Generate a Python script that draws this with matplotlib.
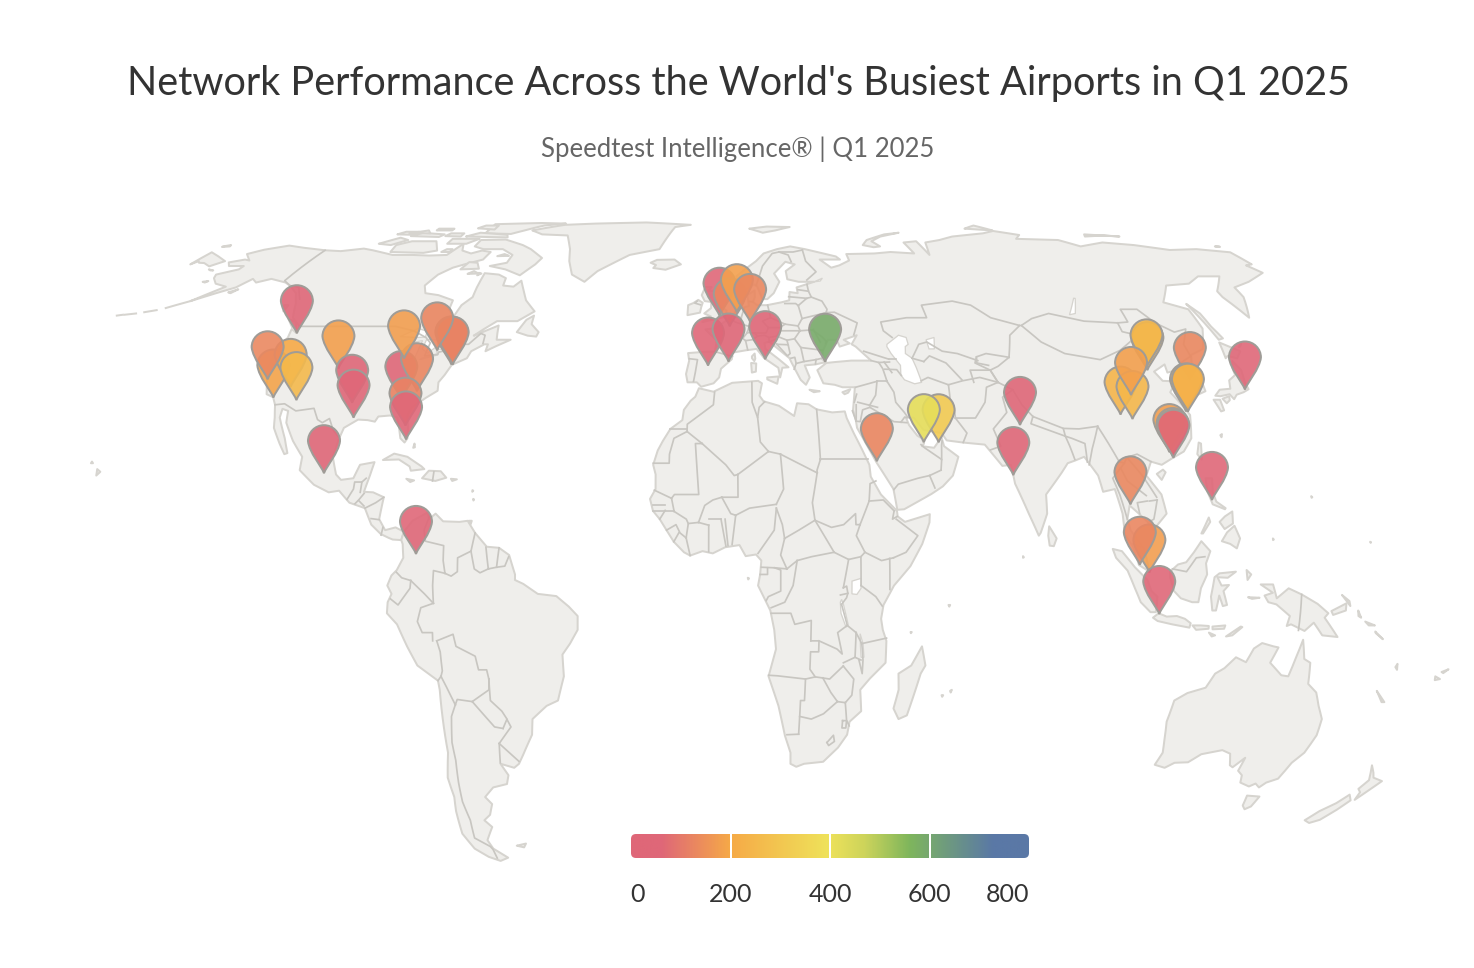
import numpy as np
import matplotlib
matplotlib.use("Agg")
import matplotlib.pyplot as plt
from matplotlib.path import Path
from matplotlib.patches import PathPatch, FancyBboxPatch, Polygon
from matplotlib.colors import LinearSegmentedColormap

# ---------- chart values ----------
TITLE = "Network Performance Across the World's Busiest Airports in Q1 2025"
SUBTITLE = "Speedtest Intelligence® | Q1 2025"
TICK_VALUES = [0, 200, 400, 600, 800]
AIRPORTS = ["SEA","EWR","JFK","YYZ","LAX","LAS","PHX","SFO","DEN","DFW","IAH","ATL","CLT","ORD","MCO","MIA","MEX","BOG",
            "LHR","CDG","AMS","FRA","MAD","BCN","FCO","IST","JED","DXB","DOH","DEL","BOM",
            "PKX","PEK","CTU","CKG","XIY","ICN","SHA","PVG","CAN","SZX","HKG","HND","MNL","BKK","SIN","KUL","CGK"]
LATS = [47.45,40.69,40.64,43.68,33.94,36.08,33.43,37.62,39.86,32.90,29.98,33.64,35.21,41.97,28.43,25.79,19.44,4.70,
        51.47,49.01,52.31,50.03,40.47,41.30,41.80,41.26,21.68,25.25,25.27,28.57,19.09,
        39.51,40.08,30.58,29.72,34.45,37.46,31.20,31.14,23.39,22.64,22.31,35.55,14.51,13.69,1.36,2.75,-6.13]
LONS = [-122.31,-74.17,-73.78,-79.63,-118.41,-115.15,-112.01,-122.38,-104.67,-97.04,-95.34,-84.43,-80.94,-87.90,-81.31,-80.29,-99.07,-74.15,
        -0.45,2.55,4.76,8.57,-3.56,2.08,12.25,28.74,39.16,55.36,51.61,77.10,72.87,
        116.41,116.58,103.95,106.64,108.75,126.44,121.34,121.80,113.30,113.81,113.91,139.78,121.02,100.75,103.99,101.71,106.66]
SPEEDS = [45,105,120,125,190,200,250,130,180,60,35,50,125,175,120,35,50,50,
          50,125,180,130,40,40,40,590,125,310,415,40,40,
          245,245,240,245,180,130,225,225,175,190,30,45,45,130,175,125,45]

CMAP_VALUES = [0, 60, 200, 395, 470, 560, 610, 730, 800]
CMAP_COLORS = ["#df6778", "#df6778", "#f6aa47", "#efe25a", "#cdd45b", "#7fb65c", "#74a474", "#5a78a6", "#5a78a6"]

# ---------- map outlines (lon, lat) ----------
NORTH_AMERICA = [(-168,65.6),(-164,66.5),(-162,66.2),(-166.5,68.3),(-163,69.8),(-156.5,71.3),(-150,70.5),(-141,69.6),(-135,69.3),(-128,70.2),(-124,69.6),(-115,68),(-108,68),(-102,67.8),(-96,68),(-94,72),(-92,69.5),(-88,68.5),(-85,69.5),(-81.5,69),(-82,66.5),(-87,65),(-90,64),(-93,62),(-94.5,59),(-92.5,57),(-88,56.5),(-82.5,55.2),(-82,52.9),(-79.5,51.3),(-79,54),(-77,56),(-77.5,58.5),(-78,62.4),(-73,62),(-70,61),(-69.5,59),(-66,58.7),(-64.5,60.3),(-62,57.5),(-60,55.2),(-56,52.5),(-60,50.2),(-66,50.2),(-69,48.3),(-71,46.9),(-65,49.2),(-64.5,47.5),(-64,46),(-60,46),(-63.5,44.6),(-66,43.5),(-66,45),(-67,45),(-70,43.5),(-70.5,42),(-74,40.6),(-75,38.5),(-76,37),(-75.5,35.3),(-78,33.9),(-81,32),(-81.5,30.5),(-80.5,28),(-80,26),(-80.5,25.2),(-81.8,26),(-82.8,28),(-84,30),(-86,30.4),(-89,30.2),(-89.5,29.2),(-91.5,29.5),(-94,29.6),(-97,28),(-97.5,25.5),(-97.8,22.5),(-96,19.2),(-94.5,18.2),(-91.5,18.5),(-90.5,21),(-87,21.5),(-87.5,19),(-88.3,16),(-86,15.9),(-83.2,15),(-83.7,11),(-82,9),(-79.5,9.5),(-77.4,8.7),(-77.9,7.2),(-80,7.3),(-81,7.6),(-83,8.3),(-85.5,10),(-87.5,13),(-91.5,14),(-94.5,16.2),(-97,15.9),(-101,17.3),(-105.3,20),(-105.5,22.5),(-109,25.5),(-112.3,29),(-113,31.3),(-114.7,31.7),(-114.5,30),(-111.3,26),(-109.5,23.2),(-110.2,23),(-112.2,25),(-115,28),(-115.8,30),(-117.1,32.5),(-118.5,34),(-120.6,34.6),(-122,36.8),(-124,40),(-124.5,43),(-124,46.5),(-124.7,48.4),(-122.5,47.5),(-123,49),(-127,51),(-130,54.5),(-133,57),(-137,58.8),(-140,59.8),(-146,60.8),(-149.5,59.8),(-152,60.8),(-154,58.5),(-158,57),(-163,55),(-157.5,58.7),(-162,59.5),(-165,61),(-166,62),(-161,63.5),(-161,64.5),(-166,64.5)]
SOUTH_AMERICA = [(-77.4,8.7),(-75.5,10.7),(-72,12.2),(-71.5,11),(-70,12),(-68,10.6),(-64,10.5),(-62,10.7),(-60,8.5),(-57,6),(-54,5.8),(-51.5,4.5),(-50,1),(-50,0),(-48,-0.7),(-44.5,-2.5),(-40,-2.9),(-37,-4.8),(-34.9,-6.5),(-35,-9),(-37,-11.5),(-39,-13.5),(-39,-17.5),(-41,-22),(-44,-23),(-48,-25.5),(-48.7,-28.5),(-52,-32.5),(-53.5,-34.2),(-55,-35),(-58.4,-34.2),(-57,-36.5),(-58,-38.3),(-62,-39),(-65,-41),(-63.7,-42.5),(-65.3,-44.8),(-67.5,-46),(-66,-47.5),(-69,-50.5),(-68.4,-52.5),(-65.2,-54.7),(-68,-55.5),(-71,-54.5),(-74,-52.5),(-75.5,-49),(-74.5,-44),(-73.5,-41),(-73.5,-37),(-71.5,-32),(-71,-27),(-70.3,-20),(-70.4,-18.3),(-75,-15.5),(-77,-12),(-79,-8),(-81.3,-6),(-81,-4),(-80,-2.5),(-81,-1),(-80,0.8),(-78.7,1.8),(-77.2,4),(-77.5,6.5),(-77.9,7.2)]
AFRICA = [(-5.9,35.8),(-2,35.1),(3,36.9),(10,37.3),(11,36.8),(10.2,34.3),(11.2,33.2),(15.2,32.3),(19,30.3),(20,32.8),(23,32.6),(25,31.6),(29,31),(32.3,31.2),(32.6,29.9),(34,27),(35.7,23.9),(37.2,21),(37.3,18.8),(39.5,15.5),(43.2,12.5),(43.3,11.5),(45,10.5),(51.2,11.9),(51,10.4),(49,6.5),(46,2.5),(42,-1),(39.5,-4.5),(39,-7),(39.5,-9),(40.5,-11),(40.6,-15),(37,-17.9),(34.8,-20),(35.5,-24),(32.8,-26),(32.5,-28.5),(30.5,-31),(27,-33.8),(22,-34.2),(20,-34.8),(18.4,-34.2),(18.2,-32),(16.5,-28.7),(14.5,-23),(11.8,-17.5),(13.5,-12.5),(13,-9),(12,-5.5),(9,-1),(9.5,1),(9.8,3.5),(8.5,4.6),(6,4.3),(4.5,6.3),(1,5.9),(-2,4.8),(-4.5,5.2),(-7.5,4.4),(-9,5),(-11.5,6.9),(-13.3,9),(-15,11),(-16.7,12.5),(-17.5,14.7),(-16.2,16.5),(-16.3,19.2),(-17,21),(-16,23.7),(-14.8,25.5),(-13,27.8),(-10,29.5),(-9.7,31.5),(-8,33.3),(-6.8,34.1)]
EURASIA = [(-9,37),(-9.5,38.7),(-8.8,41.5),(-9.2,43.1),(-4,43.4),(-1.7,43.4),(-1.2,45.8),(-4.5,48.3),(-1.6,48.6),(1.5,50.3),(3.5,51.4),(4.8,53),(8.5,53.8),(8.2,56.5),(10.6,57.7),(10.5,56),(9.8,54.8),(11,54),(14,54),(18.5,54.7),(21,55.2),(21.5,57.3),(24,57),(24,58.5),(28,59.5),(30,60),(25,60),(21.5,60.7),(21.5,63),(25,65),(22,65.8),(17.5,62.3),(18.8,60),(16.5,57),(14.3,55.5),(12.8,55.5),(11.5,58.8),(10.5,59.3),(8,58),(5.5,59),(5,61.5),(8,63.5),(12,66),(15,68.5),(20,70),(25,71),(30,70),(40,67.5),(41,66.5),(34,66.5),(37,64),(40,64.7),(44,66.2),(44,68.3),(54,68.5),(60,69),(68,68.5),(67,72.5),(72,73),(73,68),(75,72.5),(81,73.5),(87,75),(100,76.5),(105,77.7),(113,75.7),(110,74),(125,73.5),(130,71),(140,72.5),(150,71.5),(160,69.7),(170,70),(180,68.9),(180,65),(177.5,64.7),(179,62.5),(170,60),(163,58.5),(162,56),(156.7,51),(155.5,56),(156,57.5),(163,61.5),(156,61.5),(150,59.5),(142,59),(135.5,54.7),(141,53),(140,48.5),(135.5,44),(131,42.7),(129.7,41),(127.5,39.8),(129.4,37),(129,35.2),(126.5,34.5),(126.5,37.5),(125,38),(125,39.6),(121.5,39),(122,40.7),(118,39.2),(119,37.3),(122.5,37.2),(119.5,35),(121,32.5),(122,30.5),(120,26),(117,23.5),(113.5,22.2),(110.5,21),(108,21.6),(106,19),(108.8,15.5),(109.3,12),(105.5,9),(105,10),(102.5,12),(100.5,13.5),(99.5,11),(100,9),(103,5.5),(104,1.5),(101.5,2.7),(100.3,6),(98.5,8.2),(98.5,12),(97.5,16.5),(94.5,16),(94,19),(91.5,22.5),(89,21.8),(87,21.3),(85,19.5),(80.3,15.5),(80,12),(78,8.5),(77.5,8),(75.5,12),(73,17.5),(72.7,21),(70.5,20.8),(69,22.5),(67,24.8),(61.5,25.2),(57.5,25.6),(56.5,27),(52,27.6),(50,30),(48,30),(48.5,28.5),(50.2,26.5),(51.2,26),(51.6,25),(51,24.5),(54,24.2),(56.3,26.2),(56.6,24.5),(59.8,22.5),(57.8,19),(55,17),(52,15.6),(45,12.8),(43.3,12.7),(42.7,16.5),(39,21.5),(35,28),(34.9,29.5),(34.5,31.5),(35.8,36),(32.5,36),(30.5,36.5),(27.5,36.8),(26.3,39.5),(29,41),(31.5,41.2),(36,41.5),(41.5,41.5),(38,44.5),(37,45),(39,47),(35,46),(36.5,45.2),(33.5,44.5),(33,46),(30.5,46),(28.5,43.5),(28,41.8),(29,41.2),(26,40.7),(23,40.5),(24,38),(22.8,36.5),(21.5,37.5),(19.5,41),(19,42),(13.7,45.6),(12.3,45.3),(12.5,44),(16,41.8),(18.5,40.1),(16.8,40),(16,38),(15.7,40),(12,42),(10,44),(7,43.7),(3.2,43.2),(3,41.8),(0,39.8),(-0.5,38),(-2,36.8),(-5.3,36.1),(-6.5,37)]
CHUKOTKA_EAST = [(-180,68.9),(-175,67.5),(-170,66),(-172.5,64.4),(-176,65.4),(-178,65.5),(-179,66),(-180,65)]
GREENLAND = [(-73,78),(-68,76),(-58,75.5),(-54,70),(-52,66),(-49,62),(-44,60),(-41,63),(-32,68),(-22,70),(-20,75),(-18,80),(-12,81.5),(-30,83.5),(-50,82.5),(-62,81.5)]
AUSTRALIA = [(113.7,-26),(114,-22),(116.8,-20.6),(121,-19.6),(122.5,-17),(124.5,-16),(126.8,-14),(129.5,-14.9),(130.8,-12.4),(132.6,-11.4),(135.5,-12),(136.8,-12.2),(135.5,-15),(139,-17.3),(140.8,-17.5),(141.6,-14),(142.5,-10.8),(143.7,-14.3),(145.4,-15),(146.3,-18.9),(149,-20.5),(150.8,-23),(153,-25.5),(153.6,-28.6),(152.8,-32),(151,-34),(150,-37.2),(147.5,-38),(146.4,-39),(144.8,-38.2),(143.5,-38.8),(140.5,-38),(139.7,-36.5),(138,-35.6),(138,-33),(136,-34.9),(135,-34.5),(133.5,-32.2),(131,-31.5),(126,-32.3),(123.5,-33.9),(120,-34),(118,-35),(115,-34.4),(115.7,-32),(114.8,-29.5)]
ISLANDS = [
 [(-80,73.7),(-72,71.5),(-68,70),(-62,67),(-63,65),(-66,61.8),(-72,63.5),(-78,64.5),(-73,65.5),(-73,68),(-78,70),(-85,70),(-89,71),(-89,73.5)],
 [(-117,69),(-105,68.7),(-101,69.5),(-105,73),(-114,73),(-118,71.5)],
 [(-125,72),(-120,71.5),(-116,73.5),(-120,74.5)],
 [(-90,76.5),(-80,76.2),(-76,78),(-70,81),(-62,82.5),(-72,83),(-90,82),(-90,79)],
 [(-96,75),(-80,74.6),(-81,75.8),(-92,76.8)],
 [(-117,75.2),(-106,74.8),(-105,76),(-114,76.7)],
 [(-95,79.2),(-88,78.5),(-88,81),(-93,81)],
 [(-100,72),(-93,72),(-90,74),(-100,74)],
 [(-87,63.5),(-81,63.7),(-83,65.5),(-86,65.7)],
 [(-123,76),(-117,75.8),(-116,77.3),(-121,77.3)],[(-104,75.2),(-98,75),(-98,76.5),(-103,76.5)],[(-99,69),(-96,69),(-96,70),(-98,70)],
 [(-83.5,62.2),(-80,62.3),(-82,63)],[(-80,61.8),(-79,62.3),(-80,62.5)],[(-78,67.6),(-74,67.7),(-76,68.3)],[(-110,78),(-104,78),(-104,79),(-110,79)],[(-119,76.5),(-111,76.5),(-113,78)],
 [(-59,47.7),(-55.5,46.9),(-53,46.7),(-52.7,47.7),(-55.5,49.5),(-55.7,51.5),(-57.5,50.5)],
 [(-128,50.7),(-125,50),(-123.4,48.4),(-125,48.8)],[(-133,54),(-131.7,54),(-131.5,52.5)],
 [(-85,21.9),(-82.5,23.1),(-79,22.5),(-75,20.7),(-74.2,20.2),(-77.5,19.9),(-78,20.7),(-81,22)],
 [(-74.4,18.5),(-73,19.9),(-70,19.8),(-68.4,18.6),(-71,18)],
 [(-78.3,18.4),(-76.3,18.1),(-77.2,17.8)],[(-67.2,18.4),(-65.7,18.3),(-66.8,18)],
 [(-77.9,25),(-77.6,24.3),(-78,24.2)],[(-61.7,10.7),(-61,10.7),(-61.2,10.1)],[(-61.5,16.3),(-61.3,16.2),(-61.5,16)],[(-61.1,14.7),(-60.9,14.6),(-61,14.4)],
 [(-24,65.5),(-22,66.4),(-16,66.5),(-13.6,65),(-18.5,63.4),(-22.7,63.9),(-22,64.8)],
 [(-5.5,50),(1.3,51.2),(1.7,52.7),(0,53.5),(-1.5,55),(-2,56),(-2,57.6),(-4,57.6),(-3,58.6),(-5,58.6),(-6,56.5),(-5,55),(-3,54.8),(-3,53.3),(-5,52),(-3,51.3)],
 [(-10,51.6),(-6.3,52.2),(-6,53.5),(-5.6,54.6),(-7,55.3),(-8.5,54.5),(-10,54)],
 [(11,79),(16,76.8),(21,78),(27,80),(18,80.3)],
 [(51.5,71.5),(55,70.7),(57.5,71),(55.5,73),(60,75),(68,76.8),(62,76),(54,73.5)],
 [(95,79),(105,78),(100,81)],[(137,75),(145,75.5),(150,75),(138,76)],[(-180,71),(-178,71.5),(-177.5,71),(-180,70.8)],[(178.5,71),(180,71),(180,70.8)],
 [(142,54.3),(143.3,52),(143,49),(143.5,46.3),(142,46),(142,50)],
 [(140,42),(141.5,45.4),(145.5,43.5),(143.2,42),(141,42.5)],
 [(131,34.3),(133,35.5),(136,35.7),(137,37.4),(139.5,38.5),(140,40),(141.3,41.4),(142,39.5),(140.9,37),(140.8,35.6),(139,35),(136.8,34.5),(135.5,33.6),(135,34.6),(132.3,34.2)],
 [(130,33.5),(131.7,33.5),(131.4,31.4),(130.5,31.2)],[(132.5,33.7),(134.6,34.2),(134.2,33.4),(133,32.8)],
 [(120.2,23),(121.5,25.2),(122,25),(120.9,22)],[(108.7,19.3),(110.5,20.1),(111,19.6),(109.6,18.2)],
 [(79.8,8),(80.2,9.7),(81.8,7.5),(81,6.1),(80,6.2)],
 [(120.3,16),(120.6,18.5),(122.2,18.5),(121.6,16),(122,14.2),(124,13),(123.8,12.8),(121,13.7)],
 [(122,7),(123.5,8.6),(125.5,9.8),(126.5,7.5),(125.5,5.7),(124,6.5)],
 [(122,10.5),(123.5,11.5),(125.5,12.4),(125.2,10.2),(123,9.2)],[(117.2,8.4),(119.5,11.3),(119.7,10.5),(117.6,8.4)],
 [(109,1.5),(111,2.8),(113,3.2),(115,5),(117,7),(119,5.2),(117.8,3),(118,1),(116.5,-1.5),(116,-4),(114.5,-4),(111.7,-3.3),(110,-2),(109,0.5)],
 [(95.3,5.6),(97.5,5.2),(100.5,2.3),(103.5,0),(104.5,-2),(106,-3),(105.8,-5.8),(104.5,-5.8),(102,-4),(100.5,-1.5),(98.7,1.7),(96,4)],
 [(105.2,-6.8),(106.5,-6),(108.5,-6.6),(111,-6.5),(113,-7),(114.5,-7.8),(114.3,-8.6),(110,-8),(106.4,-7.4)],
 [(115,-8.2),(117,-8.2),(119,-8.3),(119,-8.8),(116,-9)],[(119.9,-8.4),(123,-8.2),(122.8,-8.8),(120,-8.9)],
 [(123.5,-10.2),(126.8,-8.4),(127.2,-8.5),(125,-10)],[(119.2,-9.5),(120.8,-10),(120,-10.2)],
 [(119.5,-5.5),(119,-3),(119.8,0.5),(121,1.2),(125,1.5),(123,0.4),(120.5,0.5),(121.5,-1),(123.3,-0.9),(122,-2),(123,-4.5),(122,-4.7),(121,-2.8),(120.4,-5.5)],
 [(127.6,1.8),(128.7,1),(127.8,0)],[(128,-3.1),(130.8,-3.2),(129,-3.4)],
 [(131,-0.8),(134,-0.8),(135,-3.3),(137.8,-1.5),(141,-2.6),(145,-4.3),(147.8,-6),(147,-6.8),(150.8,-10.3),(147,-10),(144.5,-7.7),(142.5,-9.2),(139,-8),(138,-8.3),(138.5,-6.5),(135,-4.4),(133,-4),(132,-2.8),(134,-2.3)],
 [(148.5,-5.6),(152,-4.2),(152,-5.5),(149,-6.3)],[(150.8,-2.7),(153,-4.7),(152.7,-3.8)],[(155,-5.5),(155.9,-6.8),(155.2,-6.5)],
 [(157,-7.5),(159.5,-8.2),(158,-8.2)],[(159.8,-9.3),(162,-10.7),(160,-9.6)],
 [(144.7,-40.7),(148.3,-40.9),(148,-43),(146.8,-43.6),(145.5,-42.8)],
 [(172.7,-34.5),(174.5,-36),(175.5,-37),(178.5,-37.7),(177,-39.5),(175.3,-41.6),(175,-40),(173.8,-39.3),(174.8,-37.5)],
 [(172.7,-40.5),(174.3,-41.7),(172.8,-43.7),(170.7,-45.9),(168.5,-46.6),(166.5,-46),(168.3,-44),(171,-42.3)],
 [(164,-20.2),(167,-22.3),(166.3,-22.3)],[(167,-15.2),(167.3,-16.3),(166.7,-15.8)],
 [(177.3,-17.5),(178.7,-18),(177.5,-18.2)],[(178.5,-16.7),(180,-16.2),(179,-16.9)],
 [(49.3,-12),(50.5,-15.5),(49.5,-17),(47.2,-24.8),(45.2,-25.5),(43.6,-23.5),(44.4,-20),(44,-17),(47,-15.5)],
 [(12.5,38),(15.6,38.2),(15.1,36.7),(12.5,37.6)],[(8.3,41),(9.7,40.9),(9.5,39.2),(8.4,39)],[(8.6,42.4),(9.4,43),(9.5,41.9),(9.2,41.4),(8.6,42)],
 [(23.6,35.5),(26.3,35.2),(24.7,35)],[(32.3,35),(34.5,35.6),(33.8,34.9),(32.8,34.6)],
 [(-61,-51.8),(-58,-51.3),(-59,-52.2)],[(-156,20.2),(-155,19.7),(-155.7,19)],
 [(-154.5,57.2),(-152.5,58),(-153.5,57)],[(-171,63.5),(-169,63.2),(-170,63.2)],[(-167,60),(-165.5,60.2),(-166,59.8)],
 [(57.3,-20.2),(57.7,-20),(57.5,-20.5)],[(55.3,-21),(55.7,-21),(55.5,-21.3)],[(46.3,-9.4),(46.6,-9.4),(46.4,-9.6)],[(55.3,-4.5),(55.7,-4.5),(55.5,-4.8)],
 [(6.5,0.4),(6.8,0.3),(6.6,0.1)],[(-158,21.6),(-157.6,21.3),(-158.1,21.3)],[(73.4,4.3),(73.6,4.1),(73.4,4)],[(134.5,7.5),(134.7,7.3),(134.5,7.2)],
 [(145.7,15.2),(145.9,15),(145.7,14.9)],[(158.1,6.9),(158.3,6.8),(158.2,6.7)],[(127.7,26.6),(128.2,26.8),(127.8,26.2)],[(146,44.4),(147.5,45.2),(146.5,44.5)],
]
ALEUTIANS = [[(-163,55),(-166,54),(-168,53.3)],[(-170,52.8),(-173,52.3)],[(-175,52),(-178,51.7)],[(-178.5,51.7),(-180,51.5)]]
LAKES = [
 [(46.8,44.5),(47,45),(51,47),(53,46.5),(53,45),(52,44.5),(51.5,43),(53,42),(53.5,40),(54,37),(52,36.7),(49.5,37.5),(48.8,38.5),(49.3,40.5),(47.5,43)],
 [(58.5,46),(61,46.5),(60,44),(58.5,44)],
 [(-92,46.7),(-88,48.5),(-85,47.9),(-84.7,46.6),(-87,46.5)],[(-87.5,41.7),(-85,42),(-85,45.8),(-87,45.5)],
 [(-84,46),(-81,46),(-80,44.7),(-82,43.1),(-84,44)],[(-83.4,41.7),(-79,42.7),(-79,43),(-83,42)],[(-79.7,43.3),(-76.3,43.5),(-76.3,44.2),(-79.5,43.8)],
 [(31.8,-0.2),(34,0.3),(34,-1.5),(33,-2.6),(31.8,-2.5)],
 [(29.3,-3.5),(29.8,-4.5),(31,-8),(30.5,-8.5),(29.2,-6),(29,-4)],
 [(34,-9.7),(34.8,-11.5),(35.2,-14),(34.5,-14),(34.2,-12)],
 [(104,51.7),(106,52),(109.5,55.7),(109,55.7)],[(30,60),(33,61),(32,60.2)],
]
BORDERS = [
 [(-123,49),(-95,49),(-89,48),(-84.5,46.5),(-82.5,45.3),(-82.5,42.5),(-79,42.8),(-79,43.3),(-76.5,44),(-74.7,45),(-71.5,45),(-69.2,47.4),(-67.8,47),(-67.5,45.2)],
 [(-141,69.6),(-141,60.3),(-137.5,59),(-134,58.5),(-130,55.5)],
 [(-117.1,32.5),(-114.7,32.7),(-111,31.3),(-106.5,31.8),(-104.5,29.6),(-103,29),(-101.5,29.8),(-99.5,27.5),(-97.2,25.9)],
 [(-92.2,14.6),(-91,16.5),(-91,17.8),(-89.2,17.8),(-88.3,18.5)],[(-89.2,17.8),(-89.2,15.9)],[(-88.2,15.7),(-89.3,14.5),(-90.1,13.8)],[(-89.3,14.4),(-87.8,13.4)],[(-87.5,13),(-85,14),(-83.2,15)],[(-85.7,11.1),(-83.7,10.9)],[(-82.6,9.5),(-82.9,8.1)],
 [(-71.7,19.7),(-71.7,18)],
 [(-71.3,11.8),(-72.5,9),(-72,7),(-67.5,6.2),(-67.5,3.5),(-67,1.2)],[(-67,1.2),(-69.8,1.7),(-70,-1),(-69.9,-4.2)],[(-69.9,-4.2),(-72,-2.5),(-75.3,-0.1)],[(-75.3,-0.1),(-77.5,0.4),(-78.8,1.4)],[(-75.3,-0.1),(-75.5,-1.5),(-78.5,-4.5),(-80.3,-3.4)],
 [(-67,1.2),(-65.5,0.7),(-64,1.5),(-64,4),(-60.8,5.2)],[(-60.8,5.2),(-60,8.5)],[(-60.8,5.2),(-59.9,2),(-58.5,1.3),(-56.5,2)],[(-56.5,2),(-57.2,5.9)],[(-54.5,2.3),(-54,5.8)],[(-56.5,2),(-54.5,2.3),(-52.5,2.5),(-51.6,4.2)],
 [(-69.9,-4.2),(-73,-5),(-74,-7.5),(-73,-9.5),(-70.5,-9.5),(-70.6,-11)],[(-69.6,-11),(-69,-13),(-69,-16.5),(-69.5,-17.5)],[(-69.6,-11),(-65.5,-9.8),(-65,-12),(-60.5,-13.8),(-60,-16.3),(-58,-16.3),(-57.7,-18)],
 [(-57.7,-18),(-58,-20),(-62.6,-22.2)],[(-62.6,-22.2),(-66.3,-21.8),(-67,-22.8)],[(-69.5,-17.5),(-68.5,-19.5),(-67,-22.8)],[(-69.5,-17.5),(-70.4,-18.3)],
 [(-67,-22.8),(-68.5,-25),(-69.8,-30),(-70,-33.5),(-71,-38),(-71.7,-42),(-71.5,-46),(-72.5,-50),(-69,-52),(-68.6,-52.7),(-68.6,-54.8)],
 [(-62.6,-22.2),(-58,-27),(-55.9,-27.3)],[(-57.7,-18),(-58,-22),(-55.5,-24),(-54.5,-25.5),(-55.9,-27.3)],[(-54.5,-25.6),(-53.8,-27),(-57.6,-30.2)],[(-57.6,-30.2),(-53.4,-33.7)],[(-57.6,-30.2),(-58.4,-34)],
 [(-1.7,35),(-2,32.5),(-8.7,28.7),(-8.7,27.3)],[(-13,27.7),(-8.7,27.7)],[(-8.7,27.3),(-12,26),(-13,23),(-13,21.3),(-17,21.3)],[(-8.7,27.3),(-4.8,25)],[(-4.8,25),(1.2,21),(3.3,19),(4.2,19.2)],[(-4.8,25),(-6.5,25),(-5.5,15.5),(-11.5,15.5),(-12.2,14.8)],[(-12.2,14.8),(-16.5,16.3)],[(-12.2,14.8),(-11.5,12.4)],[(-11.5,12.4),(-16.7,12.4)],[(-16.7,13.5),(-13.8,13.5)],[(-13.7,12.6),(-15,11)],
 [(-11.5,12.4),(-8.5,11),(-8,10.2)],[(-13.3,9),(-11,10),(-10,8.5),(-8.5,7.6)],[(-11.5,6.9),(-10.3,8.5)],[(-8.5,7.6),(-7.5,4.4)],[(-8.5,7.6),(-8,10.2),(-5.5,10.4)],[(-5.5,10.4),(-3,9.9)],[(-3,9.9),(-3,5.1)],[(-5.5,10.4),(-4,13.5),(-2,14.5),(0.2,15)],[(-3,11),(0,11)],[(0,11),(1.2,6.1)],[(1,11),(1.7,6.2)],[(3.6,11.7),(2.7,6.4)],[(0.2,15),(2.4,12),(3.6,11.7)],[(0.2,15),(4.2,15),(4.2,19.2)],[(4.2,19.2),(12,23.5)],[(12,23.5),(10,25.3),(9.5,30),(10,32),(11.5,33.1)],[(8.3,37),(8.2,33),(9.5,30)],[(12,23.5),(15,23)],[(15,23),(24,19.5)],[(24,19.5),(24,20),(25,22)],[(25,31.6),(25,22)],[(25,22),(36.9,22)],
 [(15,23),(15.5,16.5),(13.6,13.7)],[(3.6,11.7),(7,13),(13.6,13.7)],[(13.6,13),(15,10),(15.5,7.5)],[(13.6,13),(13,9),(9,4.8)],[(15.5,7.5),(19,9),(23,10.8)],[(24,19.5),(22.5,14),(23,10.8)],[(15.5,7.5),(14.5,4.5),(16,2)],[(9.8,2.3),(13,2.2),(16,2)],[(11.3,2.2),(11.3,1),(9.5,1)],[(13,2.2),(14.5,1.8),(14.5,-2),(11.5,-3),(11,-3.7)],[(16,2),(18.5,3.5)],[(18.5,3.5),(22,4.2),(27.5,5)],[(18.5,3.5),(17.5,-1),(15.5,-4),(12.2,-5)],[(27.5,5),(23,10.8)],[(23,10.8),(27,9.5),(30,10),(33,12),(33,10),(34,10)],[(34,10),(33,8),(35,5)],[(27.5,5),(31,3.7),(34,4.2),(35,5)],[(34,10),(36.5,14.3)],[(36.5,14.3),(37,17.5),(38.5,18)],[(36.5,14.3),(40,14.5),(42.5,12.5)],[(42.5,12.5),(42,11),(43.2,11.5)],[(42.9,11),(48,8),(45,5),(41.9,4)],[(35,5),(39,3.5),(41.9,4)],[(41,3.9),(41,-1.7)],[(34,4.2),(34,0),(34,-1)],[(34,-1),(37.6,-3),(39.2,-4.7)],
 [(31,3.7),(29.7,-1.4)],[(29.7,-1.4),(30.5,-1.1),(30.8,-2.4),(30.5,-3.2),(29.3,-4.4)],[(29,-2.7),(30.8,-2.4)],[(29.3,-4.4),(30.8,-8.2)],[(30.8,-8.2),(33,-9.5)],[(33,-9.5),(34.5,-11.5)],[(34.5,-11.5),(40.5,-10.5)],[(34.5,-11.5),(35,-14.5),(35,-17),(34,-14.5)],[(33,-9.5),(33,-14),(34.5,-14.5)],[(33,-14),(30.2,-15)],[(30.2,-15.6),(27,-18),(25.3,-17.8)],[(30.2,-15.6),(33,-18),(32.8,-21),(31.3,-22.4)],[(31.3,-22.4),(29.3,-22.2)],[(29.3,-22.2),(27.5,-20.5),(25.3,-17.8)],[(22,-11),(24,-11),(24,-13),(22,-13),(22,-16.2),(23.4,-17.6)],[(24,-11),(27,-12),(28.5,-12.5),(29.8,-13.4),(28.5,-9.5),(30.8,-8.2)],[(12.2,-6),(17,-6),(18,-8),(22,-7.3),(22,-11)],[(11.8,-17.3),(14,-17.4),(21,-18),(23.4,-17.6),(25.3,-17.8)],[(21,-18),(21,-22),(20,-22),(20,-28.4)],[(20,-28.4),(17,-28.5)],[(20,-25),(23,-25.5),(26,-24.5),(29.3,-22.2)],[(31.3,-22.4),(32,-25.7),(32.8,-26.8)],[(31,-25.8),(32,-25.8),(32,-27.2),(31,-27.2),(31,-25.8)],[(27.5,-30),(29,-28.6),(29.4,-29.8),(28,-30.6),(27.5,-30)],
 [(-8.8,41.9),(-6.5,41.7),(-7,39),(-7.4,37.2)],[(-1.7,43.4),(3.2,42.4)],[(2.5,51),(4.2,50),(6,49.5),(8.2,49),(7.6,47.6)],[(7.6,47.6),(6.2,46.3),(7,45.8),(7.5,43.8)],[(6,49.5),(6,51),(7,53.3)],[(3.5,51.4),(6,51)],[(8.7,54.9),(9.8,54.8)],[(14.2,54),(14.7,51)],[(14.7,51),(12.2,50.2),(13.8,48.7)],[(13.8,48.7),(13,47.5),(9.6,47.5)],[(7.6,47.6),(9.6,47.5)],[(7,45.8),(9,46),(10.5,46.8),(9.6,47.5)],[(10.5,46.8),(12.5,47),(13.7,46.5),(13.7,45.6)],[(14.7,51),(18.8,49.5),(22.5,49.1)],[(13.8,48.7),(17,48.7),(18.8,49.5)],[(22.5,49.1),(24,50.8)],[(24,50.8),(23.5,53.9)],[(23.5,53.9),(22.8,54.4),(19.5,54.4)],[(21,56.1),(26.5,55.7)],[(24.3,57.9),(27.5,57.5)],[(27.5,59.3),(27.5,57.5),(28,56),(26.5,55.7),(23.5,53.9)],[(28,56),(31,55),(32,53),(31.5,52.2)],[(24,50.8),(31.5,52.2)],[(31.5,52.2),(34,52.3),(40,49.8),(38.2,47.1)],[(22.5,49.1),(22.9,48),(26.5,48.2),(29,46.6),(30,45.6),(29.7,45.2)],[(26.8,48.3),(28.2,45.5)],[(22.9,48),(17,48),(16,46.8),(18.8,45.9),(21,46.2),(22.9,48)],[(16,46.8),(13.7,46.5)],[(13.6,45.5),(16,46.2)],[(21,46.2),(22.5,44.3),(28.5,43.7)],[(22.5,44.3),(22.9,41.3),(26.3,41.7)],[(26.3,41.7),(28,42)],[(26.3,41.7),(26,40.8)],[(22.9,41.3),(20.7,40.9),(20,39.7)],[(20.7,40.9),(20.5,42.2),(19.4,42)],[(15.8,45),(19,44.9),(19.3,43),(18.5,42.5),(15.8,45)],[(18.8,45.9),(19,44.9)],
 [(11.2,59),(12.5,61.5),(14,64.5),(18,68.5),(20.5,69)],[(24,65.8),(23.5,68),(20.5,69)],[(20.5,69),(25.5,69),(29,69.7)],[(29,69.7),(29,66),(31.5,62.8),(27.8,60.5)],
 [(-7.3,55),(-8,54.5),(-6.3,54.1)],
 [(36,36),(42,37.2)],[(42,37.2),(44.7,37.2)],[(44.7,37.2),(44.3,39.5)],[(44.3,39.7),(43.5,41.1),(41.5,41.5)],[(40,43.5),(46.5,41.8)],[(46.5,41.8),(48.5,41.8)],[(43.5,41.1),(46.5,41.2)],[(45,41.2),(46.5,39)],[(44.8,39.7),(48,39.6),(48.9,38.4)],[(42,37.2),(41,34.4),(39,32.4)],[(36,33),(39,32.4)],[(36,34.6),(35.1,33)],[(35.5,32.5),(35,29.5)],[(34.3,31.3),(34.9,29.5)],[(39,32),(37,31.5),(36,29.2),(34.9,29.3)],[(39,32.4),(41,32)],[(39,32),(44.7,29.2),(46.5,29.1)],[(46.5,29.1),(48,29)],[(46.5,29.1),(47.7,30.1),(48,30)],[(44.7,37.2),(46,35),(46,33),(47.8,31),(48.5,30)],[(50.8,24.8),(51.6,24.2),(55.5,22),(55,20)],[(55,20),(52,19)],[(52,19),(49,18.5),(44,17.4),(42.8,16.4)],[(52,19),(53,16.7)],[(55.5,22),(56,24.7),(56.3,25.5)],
 [(53.9,37.3),(56,38),(61,36.5)],[(61,36.5),(60.5,33.5),(61,31.4),(60.8,29.9)],[(60.8,29.9),(63,27),(61.6,25.2)],[(60.8,29.9),(66,29.9),(69.5,33),(71,36),(74.5,37)],[(61,36.5),(65,37.3),(70,38),(74.5,37)],[(68.2,23.8),(71,24.5),(70,27.8),(74.5,31),(74.5,34),(77.8,35.5)],[(74.5,37),(77.8,35.5)],[(77.8,35.5),(79,32.5),(81,30.2)],[(81,30.2),(88,27.9),(88,26.4),(80,28.8),(81,30.2)],[(88,27.9),(92,27.8),(97,28.3)],[(88,26.4),(89.5,26),(92.5,25),(92,21.5)],[(89,22),(88.5,24.5),(88,26.4)],[(97,28.3),(94,24),(92.3,21)],[(97,28.3),(98.5,25),(100,21.6),(101.2,21.3)],[(101.2,21.3),(100,20.4)],[(100,20.4),(97.5,18.5),(98.5,15.5),(99.5,11)],[(100.3,6.5),(102,6)],[(100,20.4),(101,18),(105,15.3)],[(105,14.3),(102.5,14),(102.7,12)],[(102.2,22.4),(105,19),(107.5,15)],[(105.5,14.3),(107.5,14.5)],[(107.5,14.5),(106,11),(104.5,10.4)],[(101.2,21.3),(102.2,22.4),(105,23),(108,21.6)],
 [(124.3,40),(128,41.5),(130.6,42.4)],[(126.5,37.7),(128.3,38.6)],[(130.6,42.4),(131,45),(135,48.4),(131,47.7),(127.5,49.8),(125.5,53),(120.5,53),(119.7,50),(116.5,49.8)],[(116.5,49.8),(107,50.2),(98,52),(92,50.8),(87.8,49.2)],[(116.5,49.8),(116,47.8),(119.7,47),(112,43.7),(105,41.7),(96,43),(91,45.5),(87.8,49.2)],[(87.3,49.2),(80,51),(76,54),(71,55),(61,54),(61,51),(55,51),(47,50),(47,48),(49,46.5)],[(87.3,49.2),(83,47),(80,42.2)],[(53,42),(56,45),(58.5,45.5),(62,43.5),(66,43),(71,41.5)],[(56,41.3),(58,42.5),(62,41),(65,37.5)],[(53,42),(56,41.3)],[(80,42.2),(74,43),(71,42.3),(70,41),(73.5,39.5)],[(68,37),(68,39.5),(73.5,39.5),(74.5,37)],[(71,42.3),(70.5,41),(73.5,40.5)],[(80,42.2),(76,40.3),(73.5,39.5),(74.5,37)],
 [(141,-2.6),(141,-9.1)],[(109.6,2),(113,1.5),(115.5,4),(117.6,4.2)],
]

# ---------- Equal Earth projection onto the page ----------
A1, A2, A3, A4 = 1.340264, -0.081106, 0.000893, 0.003796
SCALE, CX, CY = 274.0, 721.0, 580.0

def project(lon, lat):
    lam = np.radians(np.asarray(lon, float))
    th = np.arcsin(np.sqrt(3) / 2 * np.sin(np.radians(np.asarray(lat, float))))
    t2 = th ** 2
    t6 = t2 ** 3
    x = 2 * np.sqrt(3) * lam * np.cos(th) / (3 * (9 * A4 * t6 * t2 + 7 * A3 * t6 + 3 * A2 * t2 + A1))
    y = th * (A4 * t6 * t2 + A3 * t6 + A2 * t2 + A1)
    return CX + SCALE * x, CY - SCALE * y

def ring_xy(pts, close=True):
    a = np.array(pts + [pts[0]] if close else pts, float)
    lon, lat = [a[0, 0]], [a[0, 1]]
    for p, q in zip(a[:-1], a[1:]):
        n = max(1, int(np.ceil(np.hypot(*(q - p)) / 2)))
        t = np.arange(1, n + 1) / n
        lon.extend(p[0] + (q[0] - p[0]) * t)
        lat.extend(p[1] + (q[1] - p[1]) * t)
    return np.column_stack(project(lon, lat))

PX = 0.72
LAND = "#efeeeb"
COAST = "#d6d4cf"
LINE = "#c8c6c1"

plt.rcParams["font.family"] = ["Lato", "DejaVu Sans"]
fig = plt.figure(figsize=(14.74, 9.68), dpi=100, facecolor="white")
ax = fig.add_axes([0, 0, 1, 1])

for ring in [NORTH_AMERICA, SOUTH_AMERICA, AFRICA, EURASIA, CHUKOTKA_EAST, GREENLAND, AUSTRALIA] + ISLANDS:
    ax.add_patch(Polygon(ring_xy(ring), closed=True, fc=LAND, ec=COAST, lw=2.0 * PX, joinstyle="round", zorder=1))
for line in ALEUTIANS:
    xy = ring_xy(line, close=False)
    ax.plot(xy[:, 0], xy[:, 1], color=COAST, lw=2.0 * PX, zorder=1)
for ring in LAKES:
    ax.add_patch(Polygon(ring_xy(ring), closed=True, fc="white", ec=COAST, lw=1.3 * PX, zorder=2))
for line in BORDERS:
    xy = ring_xy(line, close=False)
    ax.plot(xy[:, 0], xy[:, 1], color=LINE, lw=1.7 * PX, solid_joinstyle="round", zorder=3)

# ---------- colour scale ----------
cmap = LinearSegmentedColormap.from_list(
    "speed", [(v / CMAP_VALUES[-1], c) for v, c in zip(CMAP_VALUES, CMAP_COLORS)])

# ---------- pins ----------
W, H = 16.0, 48.0
k = 0.5523 * W
PIN_CODES = [Path.MOVETO, Path.CURVE4, Path.CURVE4, Path.CURVE4, Path.CURVE4, Path.CURVE4, Path.CURVE4,
             Path.CURVE4, Path.CURVE4, Path.CURVE4, Path.CURVE4, Path.CURVE4, Path.CURVE4, Path.CLOSEPOLY]
PIN_SHAPE = np.array([(0, 0), (-3, -8), (-14.5, -20), (-W, -H + W), (-W, -H + W - k), (-k, -H), (0, -H),
                      (k, -H), (W, -H + W - k), (W, -H + W), (14.5, -20), (3, -8), (0, 0), (0, 0)], float)
tx, ty = project(LONS, LATS)
for x, y, v in zip(tx, ty, SPEEDS):
    ax.add_patch(PathPatch(Path(PIN_SHAPE + (x, y), PIN_CODES), fc=cmap(v / 800, alpha=0.9), ec="#9f9c97",
                           lw=2.0 * PX, joinstyle="miter", zorder=5))

# ---------- legend ----------
BAR_X0, BAR_X1, BAR_Y0, BAR_Y1 = 631, 1029, 834, 858
bar_scale = lambda v: BAR_X0 + (BAR_X1 - BAR_X0) * np.asarray(v, float) / TICK_VALUES[-1]
grad = np.linspace(0, 1, 800).reshape(1, -1)
im = ax.imshow(grad, cmap=cmap, vmin=0, vmax=1, extent=(BAR_X0, BAR_X1, BAR_Y1, BAR_Y0), aspect="auto", zorder=6)
clip = FancyBboxPatch((BAR_X0 + 4, BAR_Y0 + 4), BAR_X1 - BAR_X0 - 8, BAR_Y1 - BAR_Y0 - 8,
                      boxstyle="round,pad=4,rounding_size=5", transform=ax.transData, fc="none", ec="none")
ax.add_patch(clip)
im.set_clip_path(clip)
for v in TICK_VALUES[1:-1]:
    ax.plot([bar_scale(v) + 0.3] * 2, [BAR_Y0, BAR_Y1], color="white", lw=2 * PX, zorder=7, solid_capstyle="butt")

ax.text(739, 80, TITLE, ha="center", va="center_baseline", fontsize=28.5, color="#333333")
ax.text(738, 147, SUBTITLE, ha="center", va="center_baseline", fontsize=18.5, color="#666666")
for v in TICK_VALUES:
    ha = "left" if v == 0 else ("right" if v == TICK_VALUES[-1] else "center")
    ax.text(bar_scale(v) - (1 if ha == "left" else 0), 893, str(v), ha=ha, va="center_baseline", fontsize=18, color="#333333")

ax.set_xlim(0, 1474)
ax.set_ylim(968, 0)
ax.axis("off")
fig.savefig("out.png", dpi=100, facecolor="white")
